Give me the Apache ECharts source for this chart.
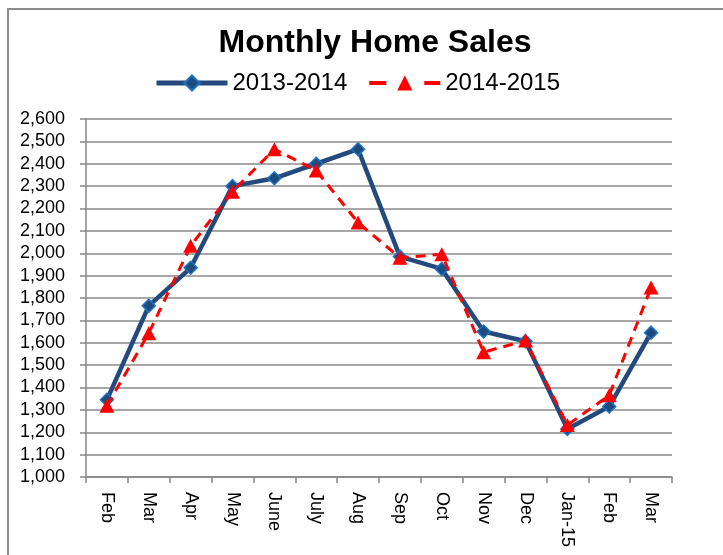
<!DOCTYPE html>
<html>
<head>
<meta charset="utf-8">
<script src="https://cdn.jsdelivr.net/npm/echarts@6/dist/echarts.min.js"></script>
<style>
  html, body { margin: 0; padding: 0; background: #fff; }
  #main { width: 723px; height: 555px; }
</style>
</head>
<body>
<div id="main"></div>
<script>
// months on the x axis (Feb 2013 .. Mar 2014 / Feb 2014 .. Mar 2015)
var months = ['Feb', 'Mar', 'Apr', 'May', 'June', 'July', 'Aug', 'Sep', 'Oct', 'Nov', 'Dec', 'Jan-15', 'Feb', 'Mar']
// home sales
var sales1314 = [1345, 1765, 1935, 2300, 2335, 2400, 2465, 1985, 1930, 1650, 1607, 1215, 1315, 1645]
var sales1415 = [1318, 1643, 2033, 2275, 2465, 2370, 2137, 1980, 1995, 1558, 1610, 1232, 1365, 1847]

var font = 'Liberation Sans'
var gridGray = '#8a8a8a'
var blue = '#24497c'
var red = '#ff0000'

var myChart = echarts.init(document.getElementById('main'), null, { renderer: 'canvas' })

myChart.setOption({
  animation: false,
  backgroundColor: '#fff',
  graphic: [
    {
      // chart frame (left + top edges visible)
      type: 'rect',
      shape: { x: 8, y: 9, width: 800, height: 700 },
      style: { fill: 'none', stroke: '#8c8c8c', lineWidth: 2 },
      silent: true
    }
  ],
  title: {
    text: 'Monthly Home Sales',
    left: 370,
    textAlign: 'center',
    top: 22,
    textStyle: {
      fontFamily: font,
      fontWeight: 'bold',
      fontSize: 32,
      color: '#000'
    }
  },
  legend: {
    left: 154,
    top: 71,
    padding: 0,
    itemWidth: 71,
    itemHeight: 19,
    itemGap: 20,
    textStyle: {
      fontFamily: font,
      fontSize: 24,
      color: '#000'
    },
    data: [
      {
        name: '2013-2014',
        lineStyle: { color: blue, width: 5 }
      },
      {
        name: '2014-2015',
        lineStyle: { color: red, width: 4, type: [17, 38] }
      }
    ]
  },
  grid: {
    left: 86,
    right: 51,
    top: 119,
    bottom: 78
  },
  xAxis: {
    type: 'category',
    data: months,
    boundaryGap: true,
    axisLine: { lineStyle: { color: '#868686', width: 1.5 } },
    axisTick: { show: true, length: 6, lineStyle: { color: '#868686', width: 1.5 } },
    axisLabel: {
      rotate: -90,
      margin: 15,
      interval: 0,
      fontFamily: font,
      fontSize: 18,
      color: '#000'
    },
    splitLine: { show: false }
  },
  yAxis: {
    type: 'value',
    min: 1000,
    max: 2600,
    interval: 100,
    axisLine: { show: true, lineStyle: { color: '#868686', width: 1.5 } },
    axisTick: { show: true, length: 6, lineStyle: { color: '#868686', width: 1.5 } },
    axisLabel: {
      margin: 21,
      fontFamily: font,
      fontSize: 18,
      color: '#000',
      formatter: function (v) {
        return String(v).replace(/\B(?=(\d{3})+(?!\d))/g, ',')
      }
    },
    splitLine: { show: true, lineStyle: { color: gridGray, width: 1.5 } }
  },
  series: [
    {
      name: '2013-2014',
      type: 'line',
      data: sales1314,
      symbol: 'diamond',
      symbolSize: 13,
      lineStyle: { color: blue, width: 4.5 },
      itemStyle: { color: '#1f4a7e', borderColor: '#1b75c4', borderWidth: 1.5 },
      z: 2
    },
    {
      name: '2014-2015',
      type: 'line',
      data: sales1415,
      symbol: 'triangle',
      symbolSize: [15, 14],
      lineStyle: { color: red, width: 3, type: [10, 7] },
      itemStyle: { color: red },
      z: 3
    }
  ]
})
</script>
</body>
</html>
